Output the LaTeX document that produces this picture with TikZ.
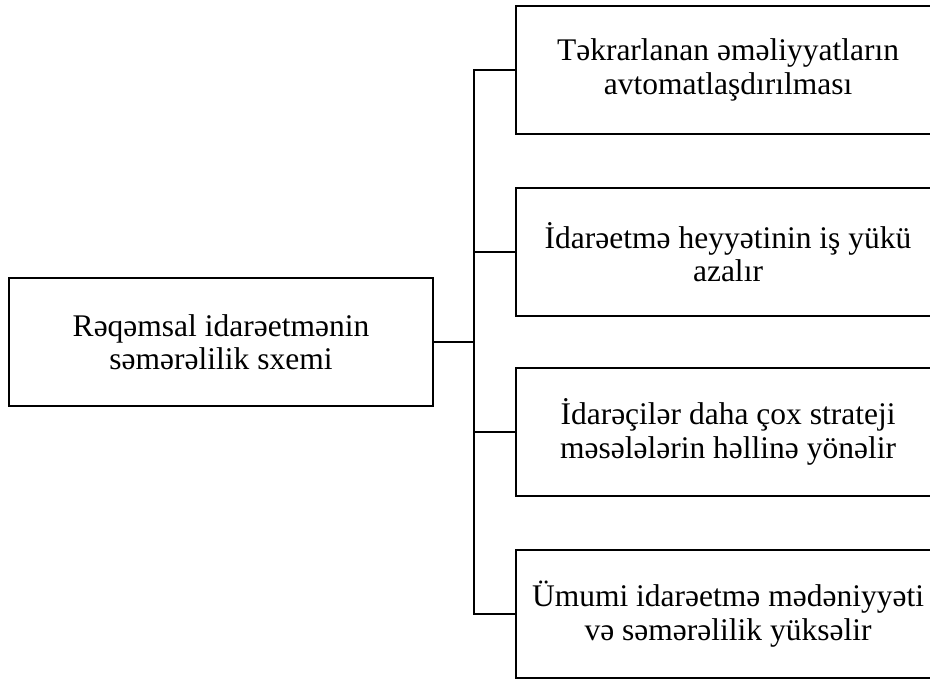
\documentclass[tikz,border=0pt]{standalone}
\usepackage{fontspec}
\setmainfont{Liberation Serif}

\begin{document}
\begin{tikzpicture}[x=1pt, y=-1pt,
    box/.style={draw, rectangle, line width=2.4pt, inner sep=0pt, outer sep=0pt,
      minimum width=424pt, minimum height=128pt, align=center,
      font=\fontsize{31.5}{33.5}\selectfont},
    link/.style={line width=2.4pt}]
    \useasboundingbox (0,0) rectangle (930,679);
    \node (main) [box] at (221,342) {Rəqəmsal idarəetmənin\\səmərəlilik sxemi};
    \node (auto) [box] at (728,70) {Təkrarlanan əməliyyatların\\avtomatlaşdırılması};
    \node (load) [box] at (728,252) {İdarəetmə heyyətinin iş yükü\\azalır};
    \node (strat) [box] at (728,432) {İdarəçilər daha çox strateji\\məsələlərin həllinə yönəlir};
    \node (cult) [box] at (728,614) {Ümumi idarəetmə mədəniyyəti\\və səmərəlilik yüksəlir};
    \draw[link] (main.east) -- ++(41,0) coordinate (fork);
    \draw[link] (auto.west) -- (auto.west -| fork) -- (cult.west -| fork) -- (cult.west);
    \draw[link] (load.west) -- (load.west -| fork);
    \draw[link] (strat.west) -- (strat.west -| fork);
  \end{tikzpicture}
\end{document}
